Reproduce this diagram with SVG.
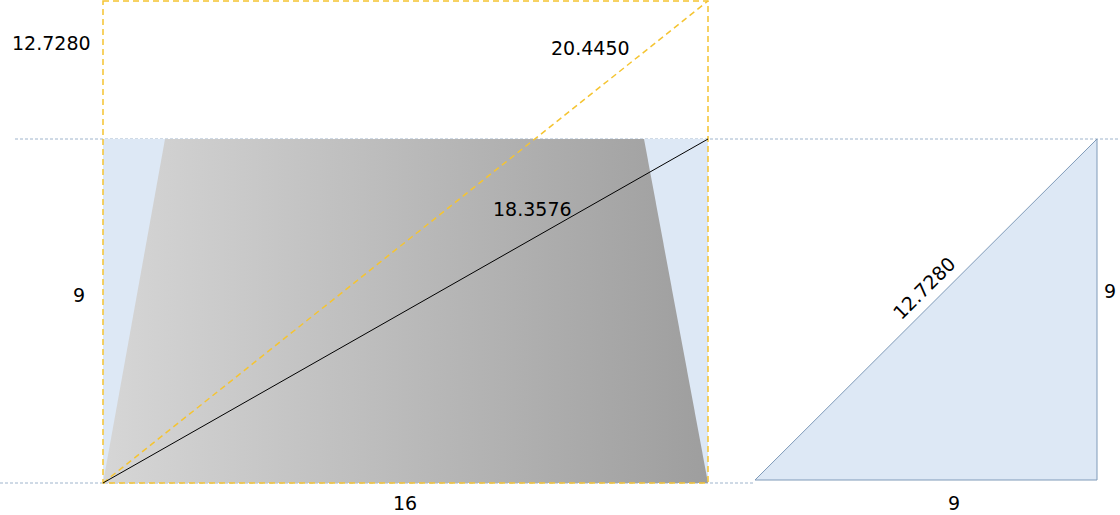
<svg xmlns="http://www.w3.org/2000/svg" width="1120" height="515" viewBox="0 0 1120 515">
<defs>
<linearGradient id="g" x1="0" y1="0" x2="1" y2="0">
<stop offset="0" stop-color="#d6d6d6"/>
<stop offset="1" stop-color="#9e9e9e"/>
</linearGradient>
<style>
.t{font-family:"DejaVu Sans",Verdana,sans-serif;font-size:19px;fill:#000}
.guide{stroke:#9fb4cc;stroke-width:1;stroke-dasharray:3 2;fill:none}
.y{stroke:#f5c431;stroke-width:1.5;stroke-dasharray:6 4;fill:none}
</style>
</defs>
<rect width="1120" height="515" fill="#fff"/>
<g id="guides">
<line class="guide" x1="15" y1="139" x2="1120" y2="139"/>
<line class="guide" x1="0" y1="483" x2="755" y2="483"/>
</g>
<g id="rect-bg">
<rect x="103" y="139" width="605" height="344" fill="#dde8f5"/>
</g>
<g id="trapezoid">
<polygon points="165,139 644,139 708,483 103,483" fill="url(#g)"/>
</g>
<g id="triangle">
<polygon points="755,480 1097,480 1097,139" fill="#dde8f5" stroke="#7f9ab8" stroke-width="1"/>
</g>
<g id="connectors">
<rect class="y" x="103" y="1" width="605" height="482"/>
<line class="y" x1="103" y1="483" x2="708" y2="1"/>
<line x1="103" y1="483" x2="708" y2="139" stroke="#000" stroke-width="1"/>
</g>
<g id="labels">
<text class="t" x="12" y="50">12.7280</text>
<text class="t" x="551" y="55">20.4450</text>
<text class="t" x="493" y="216">18.3576</text>
<text class="t" x="73" y="302">9</text>
<text class="t" x="393" y="510">16</text>
<text class="t" x="948" y="510">9</text>
<text class="t" x="1104" y="298">9</text>
<text class="t" x="0" y="0" text-anchor="middle" transform="translate(929,293) rotate(-45)">12.7280</text>
</g>
</svg>
